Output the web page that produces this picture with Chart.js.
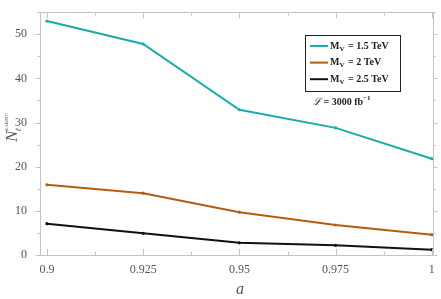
<!DOCTYPE html>
<html><head><meta charset="utf-8">
<script src="https://cdn.jsdelivr.net/npm/chart.js@4/dist/chart.umd.min.js"></script>
<style>html,body{margin:0;padding:0;background:#fff}#wrap{width:441px;height:299px}</style>
</head><body><div id="wrap"><canvas id="c" width="441" height="299"></canvas></div>
<script>
const xValues = [0.9, 0.925, 0.95, 0.975, 1];
const xTickLabels = ["0.9", "0.925", "0.95", "0.975", "1"];
const yTicks = [0, 10, 20, 30, 40, 50];
const series15 = [53.0, 47.8, 32.9, 28.8, 21.8];
const series20 = [15.9, 14.0, 9.7, 6.8, 4.6];
const series25 = [7.1, 4.9, 2.75, 2.2, 1.2];
const seriesNames = ["1.5 TeV", "2 TeV", "2.5 TeV"];
const colors = ["#1aabab", "#b55d0c", "#111111"];

const SERIF = '"Liberation Serif", "DejaVu Serif", serif';
const FRAME = '#c4c4c4';

function mk(vals){ return xValues.map((x,i)=>({x:x,y:vals[i]})); }

const framePlugin = {
  id:'frame',
  afterDatasetsDraw(chart){
    const ctx = chart.ctx, a = chart.chartArea, xs = chart.scales.x, ys = chart.scales.y;
    ctx.save();
    ctx.strokeStyle = FRAME; ctx.lineWidth = 1;
    ctx.strokeRect(Math.round(a.left)+0.5, Math.round(a.top)+0.5, Math.round(a.right-a.left), Math.round(a.bottom-a.top));
    ctx.beginPath();
    for (let v = 0.9; v <= 1.0001; v += 0.0125) {
      const major = Math.abs(Math.round(v/0.025)*0.025 - v) < 1e-6;
      const px = Math.round(xs.getPixelForValue(v)) + 0.5;
      const L = major ? 6 : 3.5;
      ctx.moveTo(px, a.bottom); ctx.lineTo(px, a.bottom - L);
      ctx.moveTo(px, a.top); ctx.lineTo(px, a.top + L);
    }
    for (let v = 0; v <= 55; v += 5) {
      const major = v % 10 === 0;
      const py = Math.round(ys.getPixelForValue(v)) + 0.5;
      const L = major ? 4.5 : 2.5;
      ctx.moveTo(a.left, py); ctx.lineTo(a.left - L, py);
      ctx.moveTo(a.right, py); ctx.lineTo(a.right + L, py);
    }
    ctx.stroke();

    // Legend box
    const bx = 305, by = 35, bw = 95, bh = 56;
    ctx.strokeStyle = '#222'; ctx.lineWidth = 1;
    ctx.fillStyle = '#fff';
    ctx.fillRect(bx, by, bw, bh);
    ctx.strokeRect(bx+0.5, by+0.5, bw, bh);
    chart.data.datasets.forEach((ds, i) => {
      const y = 46 + i*16.6;
      ctx.strokeStyle = ds.borderColor; ctx.lineWidth = 2;
      ctx.beginPath(); ctx.moveTo(310, y); ctx.lineTo(328, y); ctx.stroke();
      ctx.fillStyle = '#222';
      ctx.textBaseline = 'middle'; ctx.textAlign = 'left';
      ctx.font = 'bold 10px ' + SERIF;
      let x = 330;
      ctx.fillText('M', x, y); x += ctx.measureText('M').width;
      ctx.font = 'bold 7px ' + SERIF;
      ctx.fillText('V', x, y + 3); x += ctx.measureText('V').width + 1;
      ctx.font = 'bold 10px ' + SERIF;
      ctx.fillText(' = ' + seriesNames[i], x, y);
    });
    // Luminosity label
    ctx.fillStyle = '#222';
    ctx.textBaseline = 'middle'; ctx.textAlign = 'left';
    ctx.font = 'italic 10px ' + SERIF;
    let x = 313; const y = 102;
    ctx.fillText('\u2112', x, y); x += ctx.measureText('\u2112').width;
    ctx.font = 'bold 10px ' + SERIF;
    ctx.fillText(' = 3000 fb', x, y); x += ctx.measureText(' = 3000 fb').width;
    ctx.font = 'bold 7px ' + SERIF;
    ctx.fillText('\u22121', x, y - 4);

    // Y title
    ctx.save();
    ctx.translate(13, 130); ctx.rotate(-Math.PI/2);
    ctx.fillStyle = '#555';
    ctx.textAlign = 'left'; ctx.textBaseline = 'middle';
    ctx.font = 'italic 17px ' + SERIF;
    let tx = -12;
    ctx.fillText('N', tx, 0); tx += ctx.measureText('N').width;
    ctx.font = 'italic 8px ' + SERIF;
    ctx.fillText('\u2113', tx - 1, 6);
    ctx.font = '5px ' + SERIF;
    ctx.fillText('\u03A3ARMC', tx, -6);
    ctx.restore();
    // X title
    ctx.fillStyle = '#555';
    ctx.font = 'italic 16px ' + SERIF;
    ctx.textAlign = 'center'; ctx.textBaseline = 'middle';
    ctx.fillText('a', 240, 290);
    ctx.restore();
  }
};

new Chart(document.getElementById('c'), {
  type: 'line',
  data: {
    datasets: [
      { label: 'M_V = ' + seriesNames[0], data: mk(series15), borderColor: colors[0], backgroundColor: colors[0] },
      { label: 'M_V = ' + seriesNames[1], data: mk(series20), borderColor: colors[1], backgroundColor: colors[1] },
      { label: 'M_V = ' + seriesNames[2], data: mk(series25), borderColor: colors[2], backgroundColor: colors[2] }
    ].map(d => Object.assign(d, { borderWidth: 2, pointRadius: 1.6, pointBorderWidth: 0, tension: 0, fill: false }))
  },
  options: {
    responsive: false, animation: false, devicePixelRatio: 1,
    layout: { padding: { left: 0, right: 8, top: 10, bottom: 0 } },
    plugins: { legend: { display: false }, tooltip: { enabled: false } },
    scales: {
      x: {
        type: 'linear', min: 0.8982, max: 1.0003,
        afterBuildTicks: s => { s.ticks = xValues.map(v => ({ value: v })); },
        afterFit: s => { s.height = 44; },
        grid: { display: false }, border: { display: false },
        ticks: {
          color: '#555', font: { family: SERIF, size: 12 }, padding: 0, maxRotation: 0, autoSkip: false,
          callback: (v) => { const i = xValues.findIndex(x => Math.abs(x - v) < 1e-9); return i >= 0 ? xTickLabels[i] : ''; }
        }
      },
      y: {
        min: 0, max: 55,
        afterBuildTicks: s => { s.ticks = yTicks.map(v => ({ value: v })); },
        afterFit: s => { s.width = 40; },
        grid: { display: false }, border: { display: false },
        ticks: { color: '#555', font: { family: SERIF, size: 12 }, padding: 5 }
      }
    }
  },
  plugins: [framePlugin]
});
</script></body></html>
